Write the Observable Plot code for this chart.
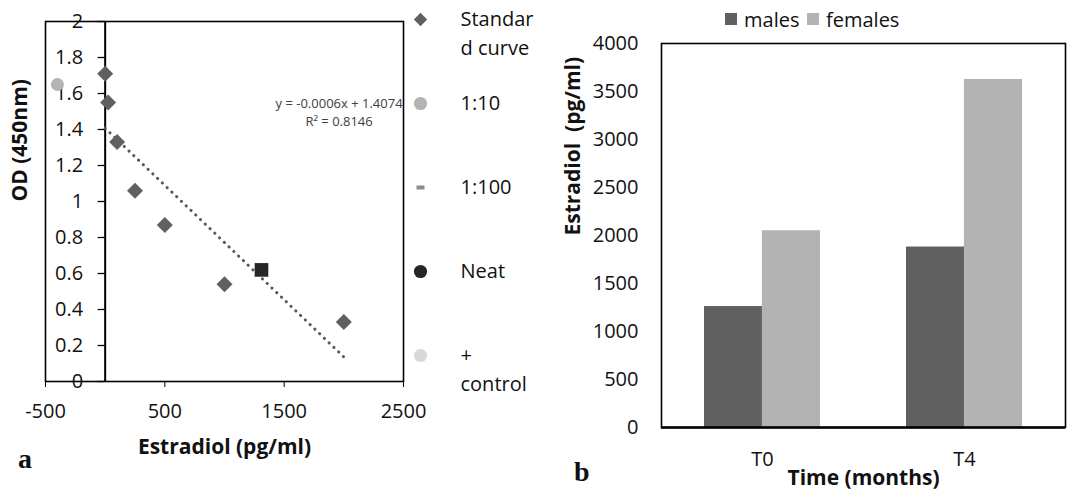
<!DOCTYPE html>
<html>
<head>
<meta charset="utf-8">
<script src="https://cdn.jsdelivr.net/npm/d3@7"></script>
<script src="https://cdn.jsdelivr.net/npm/@observablehq/plot@0.6"></script>
<style>
  html, body { margin: 0; padding: 0; background: #fff; }
  #page { position: relative; width: 1067px; height: 490px; overflow: hidden; font-family: "Open Sans", sans-serif; color: #111; }
  .abs { position: absolute; }
  .panel-letter { font-family: "Liberation Serif", "Times New Roman", serif; font-weight: bold; font-size: 28px; line-height: 28px; }
  .leg { display: flex; align-items: center; font-size: 20px; height: 30px; }
  .sw { width: 12px; height: 12px; margin-right: 7px; }
</style>
</head>
<body>
<div id="page"></div>
<script>
// ---------- Panel a: standard curve ----------
const stdX = [0, 25, 100, 250, 500, 1000, 2000];
const stdY = [1.71, 1.55, 1.33, 1.06, 0.87, 0.54, 0.33];
const dil10X = [-400];
const dil10Y = [1.65];
const neatX = [1310];
const neatY = [0.62];
const xTicksA = [-500, 500, 1500, 2500];
const yTicksA = [0, 0.2, 0.4, 0.6, 0.8, 1, 1.2, 1.4, 1.6, 1.8, 2];
const slopeLabel = "-0.0006";
const interceptLabel = "1.4074";
const r2Label = "0.8146";
const legendLabelsA = ["Standar\nd curve", "1:10", "1:100", "Neat", "+\ncontrol"];
const legendSymbolsA = ["diamond2", "circle", "dash", "circle", "circle"];
const legendColorsA = ["#606060", "#b4b4b4", "#8c8c8c", "#262626", "#d9d9d9"];

// ---------- Panel b: bars ----------
const times = ["T0", "T4"];
const malesValues = [1260, 1880];
const femalesValues = [2050, 3625];
const seriesB = ["males", "females"];
const colorsB = ["#606060", "#b3b3b3"];
const yTicksB = [0, 500, 1000, 1500, 2000, 2500, 3000, 3500, 4000];

const std = stdX.map((x, i) => ({x, y: stdY[i]}));
const dil10 = dil10X.map((x, i) => ({x, y: dil10Y[i]}));
const neat = neatX.map((x, i) => ({x, y: neatY[i]}));

const page = document.getElementById("page");
const font = "'Open Sans', sans-serif";

const plotA = Plot.plot({
  width: 420, height: 490,
  marginLeft: 45, marginRight: 17, marginTop: 21, marginBottom: 109,
  style: {fontFamily: font, fontSize: "20px", color: "#111", background: "transparent", overflow: "visible"},
  x: {domain: [-500, 2500]},
  y: {domain: [0, 2], axis: null},
  marks: [
    Plot.frame({stroke: "#000", strokeWidth: 1.6}),
    Plot.axisX({ticks: xTicksA, tickSize: 6, tickPadding: 16, fontSize: 20, label: null, tickFormat: d => String(d), stroke: "#000"}),
    Plot.ruleX([0], {stroke: "#000", strokeWidth: 2}),
    Plot.ruleY(yTicksA, {y: d => d, x1: 0, x2: 0, insetLeft: -7, stroke: "#000", strokeWidth: 1.3}),
    Plot.text(yTicksA, {x: 0, y: d => d, text: d => String(d), dx: -22, textAnchor: "end", fontSize: 20, fill: "#111"}),
    Plot.linearRegressionY(std, {x: "x", y: "y", ci: 0, stroke: "#595959", strokeWidth: 3, strokeDasharray: "0.1 6.5", strokeLinecap: "round"}),
    Plot.dot(std, {x: "x", y: "y", symbol: "diamond2", r: 7.2, fill: "#606060"}),
    Plot.dot(dil10, {x: "x", y: "y", symbol: "circle", r: 6.5, fill: "#b4b4b4"}),
    Plot.dot(neat, {x: "x", y: "y", symbol: "square", r: 7.7, fill: "#262626"}),
    Plot.text([`y = ${slopeLabel}x + ${interceptLabel}\nR² = ${r2Label}`], {x: 1960, y: 1.5, fontSize: 13, lineHeight: 1.4, fill: "#404040"}),
    Plot.text(["OD (450nm)"], {frameAnchor: "left", dx: -25, rotate: -90, fontWeight: "bold", fontSize: 21, fill: "#111"}),
    Plot.text(["Estradiol (pg/ml)"], {frameAnchor: "bottom", dy: 66, lineAnchor: "middle", fontWeight: "bold", fontSize: 21, fill: "#111"})
  ]
});
plotA.classList.add("abs");
plotA.style.left = "0px"; plotA.style.top = "0px";
page.appendChild(plotA);

// Legend for panel a (drawn with Plot)
const dashSymbol = {draw(ctx) { ctx.rect(-4, -2, 8, 4); }};
const legA = legendLabelsA.map((label, i) => ({label, sym: legendSymbolsA[i] === "dash" ? dashSymbol : legendSymbolsA[i], color: legendColorsA[i], rad: legendSymbolsA[i] === "diamond2" ? 6 : 6.6}));
const plotLegA = Plot.plot({
  width: 160, height: 400, margin: 0,
  style: {fontFamily: font, fontSize: "20px", color: "#111", background: "transparent", overflow: "visible"},
  x: {domain: [0, 160], range: [0, 160], axis: null},
  y: {type: "point", domain: legendLabelsA, range: [18, 355], padding: 0, axis: null},
  symbol: {type: "identity"},
  r: {type: "identity"},
  color: {type: "identity"},
  marks: [
    Plot.dot(legA, {x: 20, y: "label", symbol: d => d.sym, r: "rad", fill: "color"}),
    Plot.text(legA, {x: 60, y: "label", text: "label", textAnchor: "start", lineAnchor: "top", dy: -14, lineHeight: 1.45, fontSize: 20, fill: "#111"})
  ]
});
plotLegA.classList.add("abs");
plotLegA.style.left = "400px"; plotLegA.style.top = "0px";
page.appendChild(plotLegA);

// Panel b
const rowsM = times.map((t, i) => ({time: t, value: malesValues[i]}));
const rowsF = times.map((t, i) => ({time: t, value: femalesValues[i]}));
const halfBand = 0.573 * 202 / 2;
const plotB = Plot.plot({
  width: 507, height: 452,
  marginLeft: 101, marginRight: 2, marginTop: 5, marginBottom: 63,
  style: {fontFamily: font, fontSize: "20px", color: "#111", background: "transparent", overflow: "visible"},
  x: {domain: times, paddingInner: 0.427, paddingOuter: 0.2135, align: 0.5},
  y: {domain: [0, 4000]},
  marks: [
    Plot.barY(rowsM, {x: "time", y: "value", fill: colorsB[0], insetRight: halfBand}),
    Plot.barY(rowsF, {x: "time", y: "value", fill: colorsB[1], insetLeft: halfBand}),
    Plot.frame({stroke: "#000", strokeWidth: 1.6}),
    Plot.ruleY([0], {stroke: "#000", strokeWidth: 2.5}),
    Plot.axisY({ticks: yTicksB, tickSize: 0, tickPadding: 23, fontSize: 20, label: null, tickFormat: d => String(d)}),
    Plot.axisX({tickSize: 0, tickPadding: 24, fontSize: 20, label: null}),
    Plot.text(["Estradiol \u00a0(pg/ml)"], {frameAnchor: "left", dx: -88, rotate: -90, fontWeight: "bold", fontSize: 21, fill: "#111"}),
    Plot.text(["Time (months)"], {frameAnchor: "bottom", dy: 51, lineAnchor: "middle", fontWeight: "bold", fontSize: 21, fill: "#111"})
  ]
});
plotB.classList.add("abs");
plotB.style.left = "560px"; plotB.style.top = "38px";
page.appendChild(plotB);

// Legend b (HTML, above the chart)
const legPos = [725, 807];
seriesB.forEach((s, i) => {
  const d = document.createElement("div");
  d.className = "abs leg";
  d.style.left = legPos[i] + "px"; d.style.top = "4px";
  d.innerHTML = `<div class="sw" style="background:${colorsB[i]}"></div><span>${s}</span>`;
  page.appendChild(d);
});

// Panel letters
[["a", 18, 445], ["b", 574, 458]].forEach(([t, l, tp]) => {
  const d = document.createElement("div");
  d.className = "abs panel-letter";
  d.style.left = l + "px"; d.style.top = tp + "px";
  d.textContent = t;
  page.appendChild(d);
});
</script>
</body>
</html>
